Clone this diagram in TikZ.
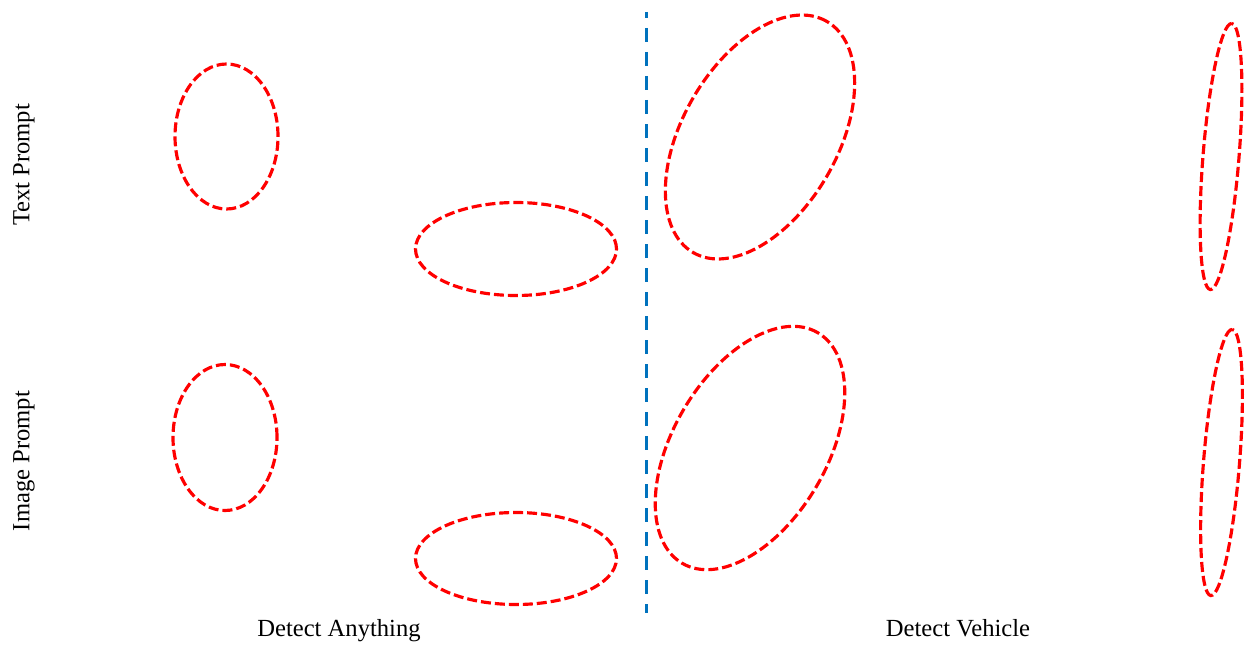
\documentclass[tikz,border=0pt]{standalone}
\usepackage{fontspec}
\setmainfont{Liberation Serif}
\usepackage{xcolor}
\usetikzlibrary{positioning, shapes.geometric, calc}
\definecolor{sepblue}{RGB}{0,114,189}

\begin{document}
\begin{tikzpicture}[
  box/.style={ellipse, draw=red, line width=1.8pt, dash pattern=on 0.2cm off 0.08cm, inner sep=0pt},
  lab/.style={font=\fontsize{14}{16}\selectfont, inner sep=0pt}]
  \useasboundingbox (0,0) rectangle (25.04,12.92);
  % left half: detect anything
  \node[box, minimum width=2.06cm, minimum height=2.90cm] (A1) at (4.53, 10.19) {};
  \node[box, minimum width=4.02cm, minimum height=1.86cm] (A2) at (10.32, 7.94) {};
  \node[box, minimum width=2.08cm, minimum height=2.92cm] (A3) at (4.50, 4.17) {};
  \node[box, minimum width=4.02cm, minimum height=1.84cm] (A4) at (10.32, 1.75) {};
  % right half: detect vehicle
  \node[box, minimum width=5.34cm, minimum height=3.10cm, rotate=60] (V1) at (15.20, 10.18) {};
  \node[box, minimum width=5.35cm, minimum height=3.07cm, rotate=59.5] (V2) at (15.00, 3.96) {};
  \node[box, minimum width=5.34cm, minimum height=0.72cm, rotate=85.4] (V3) at (24.42, 9.79) {};
  \node[box, minimum width=5.34cm, minimum height=0.72cm, rotate=85.4] (V4) at (24.43, 3.67) {};
  % separator
  \coordinate (top) at (12.92, 12.68);
  \coordinate (bot) at (12.92, 0.66);
  \draw[sepblue, line width=1.7pt, dash pattern=on 0.28cm off 0.2cm, dash phase=0.16cm] (top) -- (bot);
  % labels
  \node[lab, rotate=90] (tp) at (0.48, 9.62) {Text Prompt};
  \node[lab, rotate=90] (ip) at (0.48, 3.70) {Image Prompt};
  \node[lab, anchor=base] (da) at (6.78, 0.19) {Detect Anything};
  \node[lab, anchor=base] (dv) at (19.16, 0.19) {Detect Vehicle};
\end{tikzpicture}
\end{document}
